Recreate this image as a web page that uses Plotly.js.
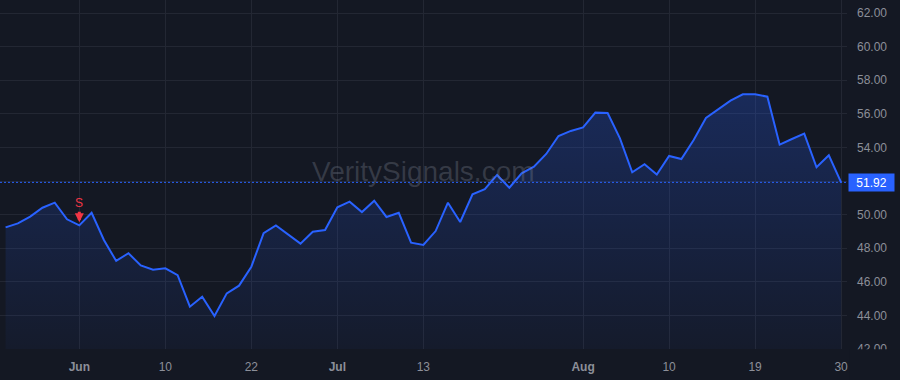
<!DOCTYPE html>
<html>
<head>
<meta charset="utf-8">
<script src="https://cdn.plot.ly/plotly-3.0.1.min.js"></script>
<style>
  html, body { margin: 0; padding: 0; background: #141823; }
  #chart { width: 900px; height: 380px; }
</style>
</head>
<body>
<div id="chart"></div>
<script>
// Daily closing values (one per trading session)
const values = [
  49.24, 49.48, 49.88, 50.41, 50.71, 49.72, 49.36, 50.11, 48.49, 47.24,
  47.70, 46.98, 46.72, 46.80, 46.39, 44.52, 45.11, 43.96, 45.31, 45.77,
  46.90, 48.89, 49.36, 48.80, 48.27, 48.98, 49.08, 50.43, 50.77, 50.15,
  50.83, 49.86, 50.11, 48.33, 48.19, 49.02, 50.71, 49.56, 51.21, 51.52,
  52.36, 51.60, 52.46, 52.85, 53.61, 54.68, 54.98, 55.19, 56.07, 56.05,
  54.54, 52.52, 53.00, 52.38, 53.49, 53.31, 54.44, 55.75, 56.27, 56.78,
  57.16, 57.16, 57.02, 54.16, 54.50, 54.82, 52.82, 53.53, 51.92
];
const sessionIndex = values.map((_, i) => i);

// X-axis tick labels (session index where each label sits)
const xTickIndex = [6, 13, 20, 27, 34, 47, 54, 61, 68];
const xTickText  = ['<b>Jun</b>', '10', '22', '<b>Jul</b>', '13', '<b>Aug</b>', '10', '19', '30'];

// Y-axis ticks
const yTickVals = [42, 44, 46, 48, 50, 52, 54, 56, 58, 60, 62];
const yTickText = yTickVals.map(v => v.toFixed(2));

// Signal marker
const signalIndex = 6;
const signalLabel = 'S';

const lastPrice = values[values.length - 1];

const BG = '#141823';
const GRID = '#232733';
const BLUE = '#2962ff';
const TXT = '#8c8f99';
const FONT = 'Liberation Sans, Arial, sans-serif';

const trace = {
  x: sessionIndex,
  y: values,
  type: 'scatter',
  mode: 'lines',
  line: { color: BLUE, width: 2 },
  fill: 'tozeroy',
  fillgradient: {
    type: 'vertical',
    start: 42,
    stop: 57.2,
    colorscale: [[0, 'rgba(41,98,255,0.04)'], [1, 'rgba(41,98,255,0.25)']]
  },
  hoverinfo: 'skip'
};

const layout = {
  width: 900,
  height: 380,
  margin: { l: 0, r: 53, t: 0, b: 31, pad: 0 },
  paper_bgcolor: BG,
  plot_bgcolor: BG,
  showlegend: false,
  font: { family: FONT, color: TXT, size: 12 },
  xaxis: {
    type: 'linear',
    range: [-0.456, 68.48],
    tickvals: xTickIndex,
    ticktext: xTickText,
    showgrid: true,
    gridcolor: GRID,
    gridwidth: 1,
    zeroline: false,
    showline: false,
    ticks: '',
    ticklabelstandoff: 9,
    tickfont: { family: FONT, size: 12, color: TXT },
    fixedrange: true
  },
  yaxis: {
    side: 'right',
    range: [42, 62.774],
    tickvals: yTickVals,
    ticktext: yTickText,
    showgrid: true,
    gridcolor: GRID,
    gridwidth: 1,
    zeroline: false,
    showline: false,
    ticks: '',
    ticklabelstandoff: 9,
    tickfont: { family: FONT, size: 12, color: TXT },
    fixedrange: true
  },
  shapes: [
    {
      type: 'line', xref: 'paper', x0: 0, x1: 1, yref: 'y', y0: lastPrice, y1: lastPrice,
      line: { color: BLUE, width: 1, dash: '2px,2px' }, layer: 'above'
    },
    {
      type: 'rect', xref: 'paper', x0: 1.0024, x1: 1.08, yref: 'paper', y0: -0.095, y1: -0.0005,
      fillcolor: BG, line: { width: 0 }, layer: 'above'
    }
  ],
  annotations: [
    {
      text: 'VeritySignals.com', xref: 'paper', yref: 'paper', x: 0.5, y: 0.51,
      xanchor: 'center', yanchor: 'middle', showarrow: false,
      font: { family: FONT, size: 28, color: 'rgba(140,145,160,0.28)' }
    },
    {
      text: lastPrice.toFixed(2), xref: 'paper', x: 1, xanchor: 'left', xshift: 1,
      yref: 'y', y: lastPrice, yanchor: 'middle', showarrow: false,
      bgcolor: BLUE, borderpad: 2, width: 41, height: 13,
      font: { family: FONT, size: 12, color: '#ffffff' }
    },
    {
      text: signalLabel, x: signalIndex, y: values[signalIndex], xref: 'x', yref: 'y',
      showarrow: true, ax: 0, ay: -22, arrowhead: 2, arrowsize: 0.6, arrowwidth: 3,
      arrowcolor: '#f23645', standoff: 3,
      font: { family: FONT, size: 12, color: '#f23645' }
    }
  ]
};

Plotly.newPlot('chart', [trace], layout, { displayModeBar: false, staticPlot: true });
</script>
</body>
</html>
